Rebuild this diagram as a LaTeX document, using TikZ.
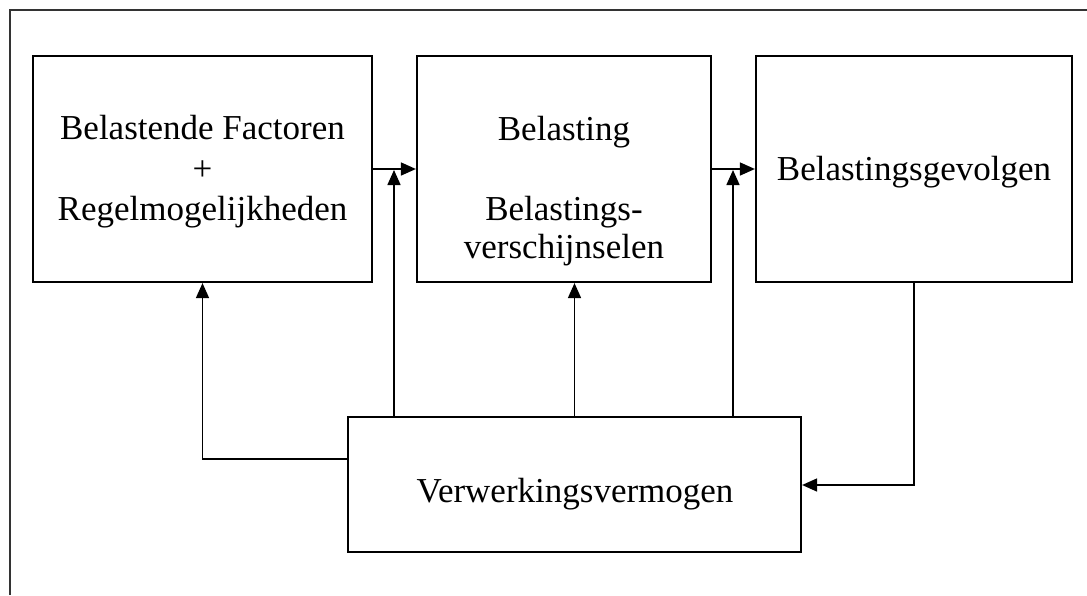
\documentclass[tikz,border=0pt]{standalone}
\usepackage{fontspec}
\setmainfont{Liberation Serif}
\usetikzlibrary{arrows.meta}
\begin{document}
\begin{tikzpicture}[x=1pt,y=-1pt,
  box/.style={draw,line width=2.2pt,inner sep=0pt},
  txt/.style={font=\fontsize{35}{40}\selectfont,anchor=base,inner sep=0pt},
  conn/.style={line width=1.6pt},
  arr/.style={conn,-{Triangle[length=15pt,width=13pt]}}]
\useasboundingbox (0,0) rectangle (1087,595);
% page frame (clipped)
\draw[line width=2pt,black!80] (9.5,595) -- (9.5,10) -- (1087,10);
% boxes
\node[box,minimum width=339pt,minimum height=226pt] (b1) at (202.5,169) {};
\node[box,minimum width=294pt,minimum height=226pt] (b2) at (564,169) {};
\node[box,minimum width=316pt,minimum height=226pt] (b3) at (914,169) {};
\node[box,minimum width=453pt,minimum height=135pt] (b4) at (574.5,484.5) {};
% texts
\node[txt] (t1a) at (202.5,139) {Belastende Factoren};
\node[txt] (t1b) at (202.5,180) {+};
\node[txt] (t1c) at (202.5,220) {Regelmogelijkheden};
\node[txt] (t2a) at (564,140) {Belasting};
\node[txt] (t2b) at (564,220) {Belastings-};
\node[txt] (t2c) at (564,258) {verschijnselen};
\node[txt] (t3a) at (914,180) {Belastingsgevolgen};
\node[txt] (t4a) at (575,502) {Verwerkingsvermogen};
% helper coordinates
\coordinate (j1) at (394,170);
\coordinate (j2) at (733,170);
\coordinate (yl) at (0,459);
\coordinate (yr) at (0,485);
% connectors
\draw[arr] (b1.east) -- (b2.west);
\draw[arr] (b2.east) -- (b3.west);
\draw[arr] (b4.north -| j1) -- (j1);
\draw[arr] (b4.north -| j2) -- (j2);
\draw[arr] (b4.north) -- (b4.north |- b2.south);
\draw[arr] (b4.west |- yl) -| (b1.south);
\draw[arr] (b3.south) |- (b4.east |- yr);
\end{tikzpicture}
\end{document}
